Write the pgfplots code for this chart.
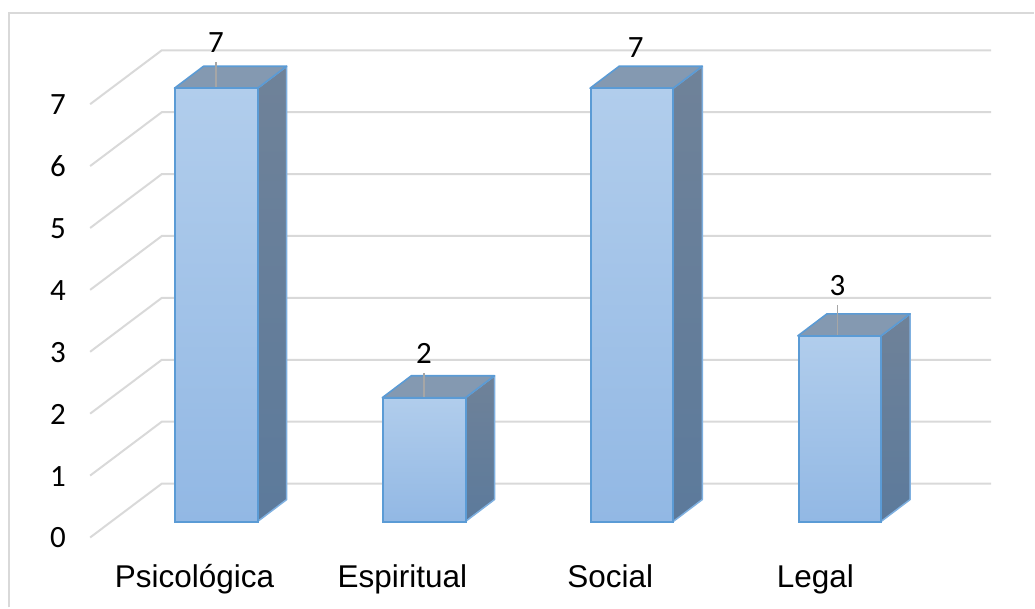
\documentclass[border=0pt]{standalone}
\usepackage{pgfplots}
\pgfplotsset{compat=1.18}
\usepackage{fontspec}
\setmainfont{Carlito}
\newfontfamily\arialf{Liberation Sans}
\definecolor{edge}{HTML}{5B9BD5}
\definecolor{edgel}{HTML}{7FB0E0}
\definecolor{ftop}{HTML}{B1CDEC}
\definecolor{fbot}{HTML}{92B8E4}
\definecolor{stop}{HTML}{6F8299}
\definecolor{sbot}{HTML}{5C7A9B}
\definecolor{toptop}{HTML}{8499B1}
\definecolor{gridc}{HTML}{D9D9D9}
\definecolor{lead}{HTML}{A6A6A6}
\pgfplotsset{
  grid line/.style={gridc,line width=2bp,forget plot},
  side/.style={top color=stop,bottom color=sbot,draw=edgel,line width=1.5bp,line join=round,forget plot},
  topf/.style={fill=toptop,draw=edge,line width=1.6bp,line join=round,forget plot},
  leader/.style={lead,line width=1.5bp,forget plot},
  front/.style={ybar,bar width=82.5bp,bar shift=0.5bp,top color=ftop,bottom color=fbot,draw=edge,line width=2bp,forget plot,
    nodes near coords,
    nodes near coords style={font=\fontsize{31bp}{31bp}\selectfont,text=black,anchor=center,xshift=#1}},
}
\begin{document}
\begin{tikzpicture}[x=1pt,y=1pt]
\begin{axis}[
  width=1035bp,height=608bp,scale only axis,
  xmin=-1.0397,xmax=3.9363,
  ymin=-1.388,ymax=8.425,
  axis line style={draw=none},
  tick style={draw=none},
  /pgf/number format/assume math mode=true,
  xtick={0,1,2,2.987},
  xticklabels={Psicológica,Espiritual,Social,Legal},
  x tick label style={font=\arialf\fontsize{31.5bp}{31.5bp}\selectfont,anchor=base,yshift=20bp,xshift=-21.5bp},
  ytick={0,1,2,3,4,5,6,7},
  y tick label style={font=\fontsize{31bp}{31bp}\selectfont,anchor=center,xshift=58bp,yshift=-16.5bp},
  clip=false,
]
% outer frame
\addplot[grid line] coordinates {(-0.9987,-1.388) (-0.9987,8.207) (3.9363,8.207)};
% back wall grid lines and floor diagonals
\addplot[grid line] coordinates {(-0.606,-0.258) (-0.261,0.613) (3.73,0.613)};
\addplot[grid line] coordinates {(-0.606,0.742) (-0.261,1.613) (3.73,1.613)};
\addplot[grid line] coordinates {(-0.606,1.742) (-0.261,2.613) (3.73,2.613)};
\addplot[grid line] coordinates {(-0.606,2.742) (-0.261,3.613) (3.73,3.613)};
\addplot[grid line] coordinates {(-0.606,3.742) (-0.261,4.613) (3.73,4.613)};
\addplot[grid line] coordinates {(-0.606,4.742) (-0.261,5.613) (3.73,5.613)};
\addplot[grid line] coordinates {(-0.606,5.742) (-0.261,6.613) (3.73,6.613)};
\addplot[grid line] coordinates {(-0.606,6.742) (-0.261,7.613) (3.73,7.613)};
% side faces
\addplot[side] coordinates {(0.2,0) (0.34,0.355) (0.34,7.355) (0.2,7)} --cycle;
\addplot[side] coordinates {(1.2,0) (1.34,0.355) (1.34,2.355) (1.2,2)} --cycle;
\addplot[side] coordinates {(2.2,0) (2.34,0.355) (2.34,7.355) (2.2,7)} --cycle;
\addplot[side] coordinates {(3.2,0) (3.34,0.355) (3.34,3.355) (3.2,3)} --cycle;
% top faces
\addplot[topf] coordinates {(-0.2,7) (-0.06,7.355) (0.34,7.355) (0.2,7)} --cycle;
\addplot[topf] coordinates {(0.8,2) (0.94,2.355) (1.34,2.355) (1.2,2)} --cycle;
\addplot[topf] coordinates {(1.8,7) (1.94,7.355) (2.34,7.355) (2.2,7)} --cycle;
\addplot[topf] coordinates {(2.8,3) (2.94,3.355) (3.34,3.355) (3.2,3)} --cycle;
% leader lines
\addplot[leader] coordinates {(0,7) (0,7.42)};
\addplot[leader] coordinates {(1,2) (1,2.40)};
\addplot[leader] coordinates {(2.99,3) (2.99,3.50)};
% front faces
\addplot[front=0bp,nodes near coords style={yshift=46bp}] coordinates {(0,7)};
\addplot[front=0bp,nodes near coords style={yshift=44bp}] coordinates {(1,2)};
\addplot[front=4bp,nodes near coords style={yshift=41bp}] coordinates {(2,7)};
\addplot[front=-2bp,nodes near coords style={yshift=50bp}] coordinates {(3,3)};
\end{axis}
\end{tikzpicture}
\end{document}
